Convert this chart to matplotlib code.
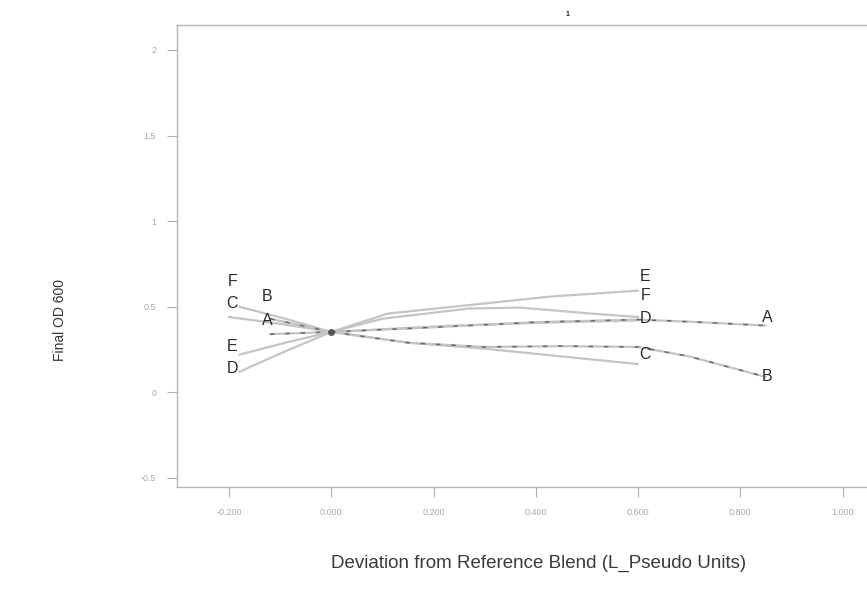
import matplotlib
matplotlib.use("Agg")
import matplotlib.pyplot as plt

# trace curves (deviation, Final OD 600)
a_x = [-0.12, 0.0, 0.2, 0.4, 0.6, 0.72, 0.85]
a_y = [0.34, 0.353, 0.38, 0.41, 0.425, 0.41, 0.39]
b_x = [-0.12, 0.0, 0.15, 0.3, 0.45, 0.6, 0.7, 0.85]
b_y = [0.43, 0.353, 0.29, 0.265, 0.27, 0.265, 0.21, 0.09]
c_x = [-0.18, -0.09, 0.0, 0.15, 0.3, 0.45, 0.6]
c_y = [0.50, 0.43, 0.353, 0.29, 0.255, 0.21, 0.165]
d_x = [-0.18, -0.09, 0.0, 0.24, 0.45, 0.6]
d_y = [0.12, 0.24, 0.353, 0.39, 0.41, 0.42]
e_x = [-0.18, -0.09, 0.0, 0.11, 0.27, 0.43, 0.6]
e_y = [0.22, 0.29, 0.353, 0.46, 0.51, 0.56, 0.594]
f_x = [-0.2, -0.1, 0.0, 0.1, 0.27, 0.37, 0.51, 0.6]
f_y = [0.44, 0.40, 0.353, 0.43, 0.49, 0.495, 0.46, 0.44]

ref_x, ref_y = 0.0, 0.353

# label spots at the curve ends
labels = ["F", "C", "B", "A", "E", "D", "E", "F", "D", "C", "A", "B"]
label_x = [-0.194, -0.194, -0.125, -0.125, -0.194, -0.194,
           0.614, 0.614, 0.614, 0.614, 0.853, 0.853]
label_y = [0.646, 0.518, 0.558, 0.418, 0.266, 0.137,
           0.675, 0.564, 0.43, 0.22, 0.44, 0.09]

x_ticks = [-0.2, 0.0, 0.2, 0.4, 0.6, 0.8, 1.0]
y_ticks = [2, 1.5, 1, 0.5, 0, -0.5]
y_ticklabels = ["2", "1.5", "1", "0.5", "0", "-0.5"]

plt.rcParams['font.family'] = ['Liberation Sans', 'DejaVu Sans']

fig = plt.figure(figsize=(8.67, 6.14), dpi=100)
ax = fig.add_axes([177 / 867, 127 / 614, 710 / 867, 462 / 614])

light = "#c4c4c4"
for xs, ys in [(a_x, a_y), (b_x, b_y), (c_x, c_y), (d_x, d_y), (e_x, e_y), (f_x, f_y)]:
    ax.plot(xs, ys, color=light, lw=1.6, solid_capstyle="round")
# A and B come out darker and broken in the scan
for xs, ys in [(a_x, a_y), (b_x, b_y)]:
    ax.plot(xs, ys, color="#6a6a6a", lw=1.1, dashes=(3, 7))
ax.plot([ref_x], [ref_y], "o", color="#555555", ms=5, mec="none")

for t, x, y in zip(labels, label_x, label_y):
    ax.text(x, y, t, ha="center", va="center", fontsize=11.5, color="#2a2a2a")

ax.set_xlim(-0.302, 1.087)
ax.set_ylim(-0.553, 2.146)
ax.set_xticks(x_ticks)
ax.set_xticklabels([f"{v:.3f}" for v in x_ticks])
ax.set_yticks(y_ticks)
ax.set_yticklabels(y_ticklabels)
ax.tick_params(direction="out", length=7, width=0.8, colors="#b0b0b0",
               labelcolor="#a8a8a8", labelsize=6.5, pad=8)
for s in ax.spines.values():
    s.set_color("#b5b5b5")
    s.set_linewidth(1.0)

fig.text(60 / 867, 1 - 320 / 614, "Final OD 600", rotation=90, ha="center",
         va="center", fontsize=10, color="#333333")
fig.text(539 / 867, 1 - 563 / 614, "Deviation from Reference Blend (L_Pseudo Units)",
         ha="center", va="center", fontsize=13.5, color="#3a3a3a")
fig.text(567 / 867, 1 - 14 / 614, "1", ha="center", va="center", fontsize=5,
         color="#222222", fontweight="bold")

fig.savefig("out.png", dpi=100)
